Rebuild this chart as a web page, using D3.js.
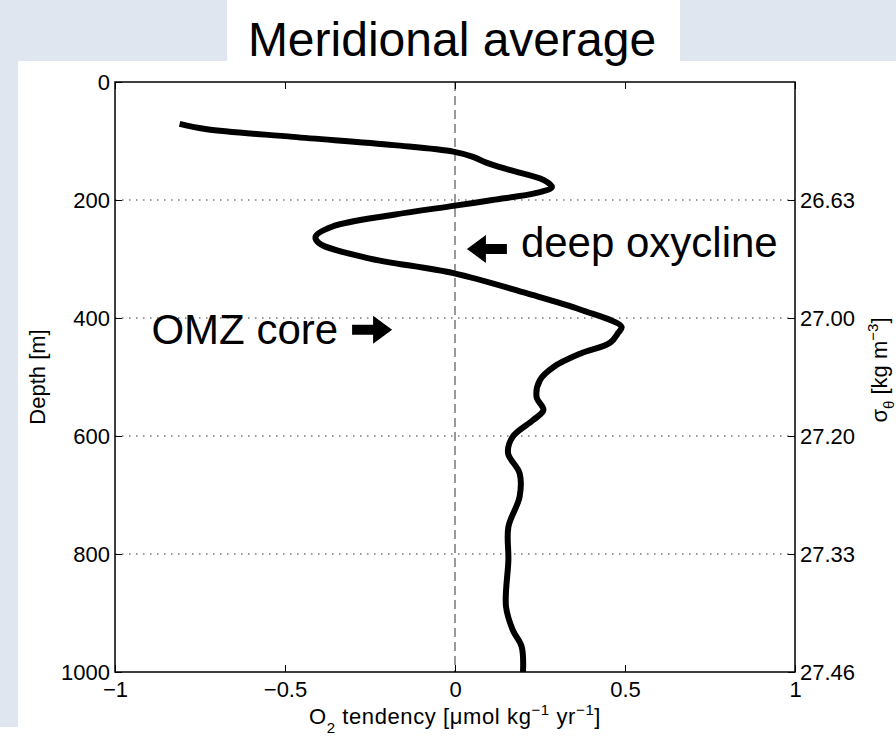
<!DOCTYPE html>
<html>
<head>
<meta charset="utf-8">
<script src="https://cdn.jsdelivr.net/npm/d3@7"></script>
<style>
  html, body { margin: 0; padding: 0; background: #ffffff; }
  svg { display: block; }
  text { font-family: "Liberation Sans", Arial, Helvetica, sans-serif; fill: #000; }
</style>
</head>
<body>
<script>
// Meridional-mean O2 tendency profile against depth
const depth = [71, 80, 93, 107, 118, 127, 137, 149, 166, 178, 188, 200, 210, 225, 245, 262, 273, 298,
               324, 358, 386, 415, 425, 442, 460, 483, 505, 534, 556, 573, 601, 629, 663, 703, 754,
               810, 889, 929, 957, 1000];
const tendency = [-0.81, -0.73, -0.476, -0.18, -0.005, 0.053, 0.094, 0.16, 0.26, 0.285, 0.24, 0.11,
                  -0.005, -0.18, -0.36, -0.41, -0.40, -0.26, -0.005, 0.21, 0.37, 0.49, 0.48, 0.456,
                  0.37, 0.29, 0.25, 0.24, 0.26, 0.23, 0.17, 0.156, 0.19, 0.19, 0.157, 0.157, 0.15,
                  0.17, 0.196, 0.2];

// axis ticks
const xTicks = [-1, -0.5, 0, 0.5, 1];
const depthTicks = [0, 200, 400, 600, 800, 1000];
const gridDepths = [200, 400, 600, 800];
// potential density (sigma-theta) at the depth ticks
const sigmaDepths = [200, 400, 600, 800, 1000];
const sigmaLabels = ["26.63", "27.00", "27.20", "27.33", "27.46"];

// annotations: [tendency, depth] of the arrow tip
const annOxycline = { label: "deep oxycline", tip: [0.035, 283] };
const annCore = { label: "OMZ core", tip: [-0.185, 420] };

const W = 896, H = 738;
const slideBlue = "#dfe6ef";

const svg = d3.select("body").append("svg")
  .attr("width", W).attr("height", H);

// slide backdrop
svg.append("rect").attr("x", 0).attr("y", 0).attr("width", W).attr("height", H).attr("fill", slideBlue);
svg.append("rect").attr("x", 18).attr("y", 61).attr("width", W - 18).attr("height", H - 61).attr("fill", "#fff");
svg.append("rect").attr("x", 0).attr("y", 727).attr("width", 18).attr("height", H - 727).attr("fill", "#fff");
svg.append("rect").attr("x", 227).attr("y", 0).attr("width", 453).attr("height", 61).attr("fill", "#fff");

svg.append("text")
  .attr("x", 452).attr("y", 56)
  .attr("text-anchor", "middle")
  .style("font-size", "48px")
  .text("Meridional average");

// plot area
const pL = 115, pR = 795, pT = 82, pB = 672;
const x = d3.scaleLinear().domain([-1, 1]).range([pL, pR]);
const y = d3.scaleLinear().domain([0, 1000]).range([pT, pB]);

const axisFont = "22px";
const smallFont = "15px";

// dotted depth grid
svg.append("g").selectAll("line").data(gridDepths).join("line")
  .attr("x1", pL).attr("x2", pR)
  .attr("y1", d => y(d)).attr("y2", d => y(d))
  .attr("stroke", "#333").attr("stroke-width", 1)
  .attr("stroke-dasharray", "1.5,5.5");

// dashed zero line
svg.append("line")
  .attr("x1", x(0)).attr("x2", x(0))
  .attr("y1", pT).attr("y2", pB)
  .attr("stroke", "#333").attr("stroke-width", 1)
  .attr("stroke-dasharray", "9,5");

const fmt = d3.format("");
const tick = -7;

const gB = svg.append("g").attr("transform", `translate(0,${pB})`)
  .call(d3.axisBottom(x).tickValues(xTicks).tickFormat(fmt).tickSize(tick).tickPadding(9));
const gT = svg.append("g").attr("transform", `translate(0,${pT})`)
  .call(d3.axisTop(x).tickValues(xTicks).tickFormat("").tickSize(tick));
const gL = svg.append("g").attr("transform", `translate(${pL},0)`)
  .call(d3.axisLeft(y).tickValues(depthTicks).tickFormat(fmt).tickSize(tick).tickPadding(5));
const gR = svg.append("g").attr("transform", `translate(${pR},0)`)
  .call(d3.axisRight(y).tickValues(sigmaDepths)
    .tickFormat((d, i) => sigmaLabels[i]).tickSize(tick).tickPadding(5));

[gB, gT, gL, gR].forEach(g => {
  g.select(".domain").remove();
  g.selectAll(".tick line").attr("stroke", "#000").attr("stroke-width", 1);
  g.selectAll("text").style("font-size", axisFont)
    .style("font-family", '"Liberation Sans", Arial, sans-serif').attr("fill", "#000");
});

// frame
svg.append("rect")
  .attr("x", pL).attr("y", pT)
  .attr("width", pR - pL).attr("height", pB - pT)
  .attr("fill", "none").attr("stroke", "#000").attr("stroke-width", 1.5);

// profile
const pts = depth.map((d, i) => [tendency[i], d]);
const line = d3.line()
  .x(p => x(p[0])).y(p => y(p[1]))
  .curve(d3.curveCatmullRom.alpha(0.5));
svg.append("path")
  .attr("d", line(pts))
  .attr("fill", "none").attr("stroke", "#000")
  .attr("stroke-width", 6).attr("stroke-linejoin", "round");

// axis titles
const xt = svg.append("text")
  .attr("x", (pL + pR) / 2).attr("y", 724)
  .attr("text-anchor", "middle")
  .style("font-size", axisFont)
  .style("letter-spacing", "0.6px");
xt.append("tspan").text("O");
xt.append("tspan").attr("dy", 9).style("font-size", smallFont).text("2");
xt.append("tspan").attr("dy", -9).text(" tendency [μmol kg");
xt.append("tspan").attr("dy", -9).style("font-size", smallFont).text("−1");
xt.append("tspan").attr("dy", 9).text(" yr");
xt.append("tspan").attr("dy", -9).style("font-size", smallFont).text("−1");
xt.append("tspan").attr("dy", 9).text("]");

svg.append("text")
  .attr("transform", `translate(45,${(pT + pB) / 2}) rotate(-90)`)
  .attr("text-anchor", "middle")
  .style("font-size", axisFont)
  .text("Depth [m]");

const rt = svg.append("text")
  .attr("transform", `translate(887,370) rotate(-90)`)
  .attr("text-anchor", "middle")
  .style("font-size", axisFont);
rt.append("tspan").text("σ");
rt.append("tspan").attr("dy", 7).style("font-size", smallFont).text("θ");
rt.append("tspan").attr("dy", -7).text(" [kg m");
rt.append("tspan").attr("dy", -9).style("font-size", smallFont).text("−3");
rt.append("tspan").attr("dy", 9).text("]");

// block arrows; dir = -1 points left, +1 points right
function blockArrow(tx, ty, dir) {
  const len = 40, headLen = 19, headHalf = 14, shaftHalf = 5;
  const p = [
    [0, 0], [headLen, -headHalf], [headLen, -shaftHalf], [len, -shaftHalf],
    [len, shaftHalf], [headLen, shaftHalf], [headLen, headHalf]
  ].map(([dx, dy]) => [tx - dir * dx, ty + dy]);
  return "M" + p.map(q => q.join(",")).join("L") + "Z";
}

const oxTip = [x(annOxycline.tip[0]), y(annOxycline.tip[1])];
svg.append("path").attr("d", blockArrow(oxTip[0], oxTip[1], -1)).attr("fill", "#000");
svg.append("text")
  .attr("x", oxTip[0] + 54).attr("y", oxTip[1] + 8)
  .style("font-size", "42px")
  .text(annOxycline.label);

const coreTip = [x(annCore.tip[0]), y(annCore.tip[1])];
svg.append("path").attr("d", blockArrow(coreTip[0], coreTip[1], 1)).attr("fill", "#000");
svg.append("text")
  .attr("x", coreTip[0] - 54).attr("y", coreTip[1] + 14)
  .attr("text-anchor", "end")
  .style("font-size", "42px")
  .text(annCore.label);
</script>
</body>
</html>
